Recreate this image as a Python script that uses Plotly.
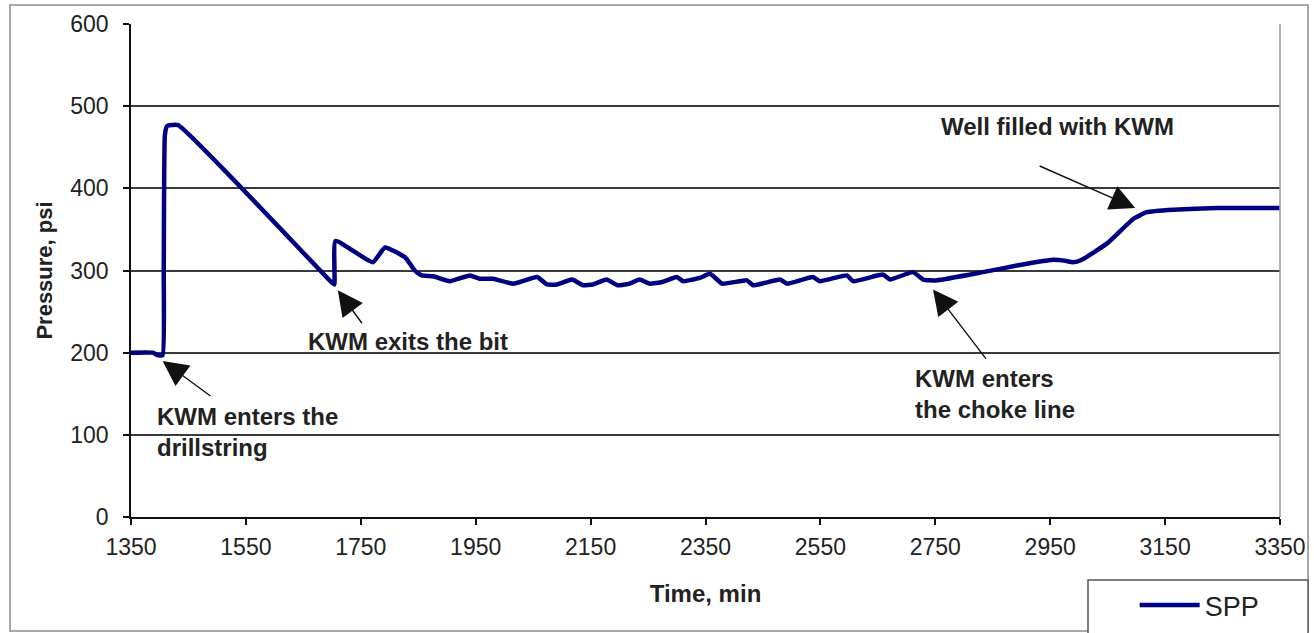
import plotly.graph_objects as go

# Standpipe pressure during the kill operation
time_min = [1350, 1388, 1396, 1405, 1407, 1409, 1413, 1432, 1700, 1704, 1706,
            1771, 1792, 1827, 1844, 1856, 1876, 1905, 1940, 1957, 1980, 2015,
            2057, 2074, 2091, 2118, 2137, 2154, 2178, 2197, 2218, 2235, 2253,
            2275, 2300, 2311, 2340, 2358, 2379, 2422, 2433, 2480, 2492, 2537,
            2549, 2596, 2607, 2659, 2671, 2711, 2729, 2753, 2833, 2892, 2955,
            2975, 2990, 3005, 3049, 3095, 3118, 3164, 3240, 3350]
spp_psi = [200, 200, 197, 197, 300, 465, 476, 477, 285, 283, 336,
           310, 328, 316, 300, 294, 293, 287, 294, 290, 290, 284,
           292, 283, 283, 289, 282, 283, 289, 282, 284, 289, 284,
           286, 292, 287, 291, 296, 284, 288, 282, 289, 284, 292,
           287, 294, 287, 295, 289, 298, 289, 288, 298, 306, 313,
           312, 310, 313, 333, 363, 371, 374, 376, 376]

x_ticks = list(range(1350, 3351, 200))
y_ticks = list(range(0, 601, 100))

# Callouts: (text, text_x, text_y, tip_x, tip_y, tail_x, tail_y)
callouts = [
    ("KWM enters the<br>drillstring", 1391, 103, 1405, 190, 1491, 146),
    ("KWM exits the bit", 1654, 213, 1710, 276, 1754, 234),
    ("KWM enters<br>the choke line", 2711, 150, 2746, 277, 2840, 191),
    ("Well filled with KWM", 2756, 475, 3098, 376, 2929, 428),
]

FONT = "Liberation Sans, Arial, sans-serif"
TEXT = "#222222"

fig = go.Figure()
fig.add_trace(go.Scatter(
    x=time_min, y=spp_psi, mode="lines", name="SPP",
    line=dict(color="#000080", width=4.5, shape="spline", smoothing=0.4),
))

annotations = []
for text, tx, ty, hx, hy, sx, sy in callouts:
    annotations.append(dict(
        x=tx, y=ty, xref="x", yref="y", text=f"<b>{text}</b>",
        showarrow=False, xanchor="left", yanchor="middle", align="left",
        font=dict(family=FONT, size=24, color=TEXT),
    ))
    annotations.append(dict(
        x=hx, y=hy, xref="x", yref="y", ax=sx, ay=sy,
        axref="x", ayref="y", text="", showarrow=True,
        arrowhead=2, arrowsize=3.6, arrowwidth=1.4, arrowcolor="#111111",
        standoff=0,
    ))

shapes = [
    # right edge of the plotting area
    dict(type="line", xref="paper", yref="paper", x0=1, x1=1, y0=0, y1=1,
         line=dict(color="#9a9a9a", width=1.5)),
    # outer chart frame
    dict(type="rect", xref="paper", yref="paper",
         x0=-0.1053, x1=1.0244, y0=-0.2312, y1=1.0385,
         line=dict(color="#8c8c8c", width=1.5), layer="below"),
    # legend box
    dict(type="rect", xref="paper", yref="paper",
         x0=0.8329, x1=1.0244, y0=-0.26, y1=-0.1278,
         fillcolor="white", line=dict(color="#555555", width=1.5),
         layer="above"),
]

fig.update_layout(
    width=1314, height=633,
    margin=dict(l=131, r=34, t=24, b=116, autoexpand=False),
    paper_bgcolor="white", plot_bgcolor="white",
    font=dict(family=FONT, size=23, color=TEXT),
    showlegend=True,
    legend=dict(
        x=0.8735, y=-0.1298, xanchor="left", yanchor="top",
        bgcolor="rgba(0,0,0,0)", borderwidth=0,
        font=dict(family=FONT, size=27, color=TEXT),
        itemwidth=60,
    ),
    xaxis=dict(
        range=[1350, 3350], tickmode="array", tickvals=x_ticks,
        ticks="outside", ticklen=6, tickwidth=1.5, tickcolor="#111111",
        showline=True, linecolor="#111111", linewidth=1.5,
        showgrid=False, zeroline=False, ticklabelstandoff=3,
        automargin=False,
        tickfont=dict(family=FONT, size=23, color=TEXT),
        title=dict(text="<b>Time, min</b>", standoff=26,
                   font=dict(family=FONT, size=24, color=TEXT)),
    ),
    yaxis=dict(
        range=[0, 600], tickmode="array", tickvals=y_ticks,
        ticks="outside", ticklen=6, tickwidth=1.5, tickcolor="#111111",
        showline=True, linecolor="#111111", linewidth=1.5,
        showgrid=True, gridcolor="#3a3a3a", gridwidth=1.5,
        zeroline=False, ticklabelstandoff=10, automargin=False,
        tickfont=dict(family=FONT, size=23, color=TEXT),
        title=dict(text="<b>Pressure, psi</b>", standoff=12,
                   font=dict(family=FONT, size=22, color=TEXT)),
    ),
    annotations=annotations,
    shapes=shapes,
)

fig.write_html("out.html")
